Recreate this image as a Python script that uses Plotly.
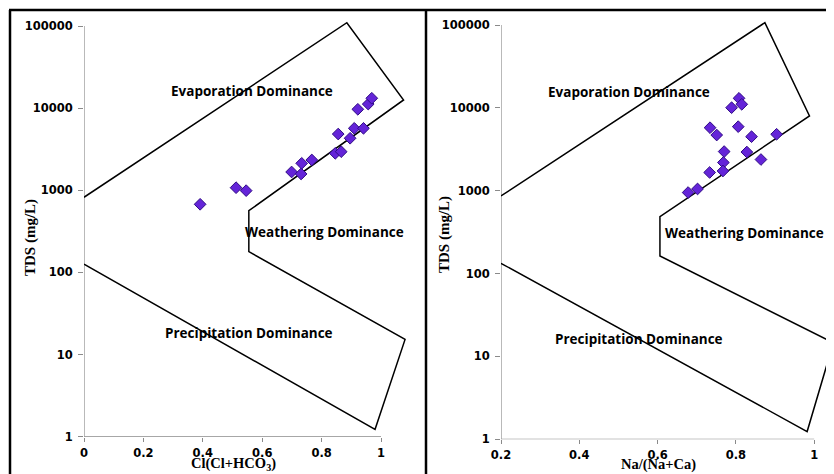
import plotly.graph_objects as go

# ---- data ----
left_x = [0.391, 0.512, 0.546, 0.699, 0.731, 0.733, 0.767, 0.846, 0.866, 0.856, 0.896, 0.910, 0.941, 0.922, 0.957, 0.969]
left_tds = [675, 1075, 990, 1670, 1580, 2130, 2340, 2820, 2950, 4840, 4300, 5680, 5680, 9680, 11200, 13200]

right_x = [0.808, 0.789, 0.815, 0.734, 0.751, 0.806, 0.840, 0.904, 0.770, 0.828, 0.864, 0.768, 0.733, 0.767, 0.678, 0.702]
right_tds = [13040, 10050, 11040, 5760, 4700, 5930, 4490, 4800, 2970, 2930, 2380, 2190, 1660, 1730, 951, 1050]

# Gibbs boundary lines
left_bx = [0.0, 0.885, 1.076, 0.555, 0.555, 1.081, 0.980, 0.0]
left_by = [822, 109600, 12570, 564, 179, 15.3, 1.23, 126]
right_bx = [0.2, 0.874, 0.988, 0.606, 0.606, 1.049, 0.982, 0.2]
right_by = [864, 106600, 7980, 486, 163, 14.6, 1.24, 133]

y_ticks = [1, 10, 100, 1000, 10000, 100000]
y_tick_text = ["1", "10", "100", "1000", "10000", "100000"]
left_xticks = [0, 0.2, 0.4, 0.6, 0.8, 1]
left_xtick_text = ["0", "0.2", "0.4", "0.6", "0.8", "1"]
right_xticks = [0.2, 0.4, 0.6, 0.8, 1]
right_xtick_text = ["0.2", "0.4", "0.6", "0.8", "1"]

regions = ["Evaporation Dominance", "Weathering Dominance", "Precipitation Dominance"]

# page body has an 8px margin, so the figure is drawn 8px smaller and
# all positions (measured in window pixels) are shifted by that offset
OFF = 8
W, H = 834 - OFF, 474 - OFF
def px(x):
    return (x - OFF) / W
def py(y):
    return 1 - (y - OFF) / H

MARKER = dict(symbol="diamond", size=9, color="#6424d8",
              line=dict(color="#2f0b85", width=1))
AXIS_GRAY = "#8a8a8a"
fig = go.Figure()

def add_panel(xs, ys, bx, by, xa, ya, x0, x1):
    # axis lines
    fig.add_trace(go.Scatter(x=[x0, x0], y=[1, 100000], mode="lines",
                             line=dict(color=AXIS_GRAY, width=1.2),
                             xaxis=xa, yaxis=ya, hoverinfo="skip", showlegend=False))
    fig.add_trace(go.Scatter(x=[x0, x1], y=[1, 1], mode="lines",
                             line=dict(color=AXIS_GRAY, width=1.2),
                             xaxis=xa, yaxis=ya, hoverinfo="skip", showlegend=False))
    fig.add_trace(go.Scatter(x=bx, y=by, mode="lines",
                             line=dict(color="black", width=1.5),
                             xaxis=xa, yaxis=ya, hoverinfo="skip", showlegend=False))
    fig.add_trace(go.Scatter(x=xs, y=ys, mode="markers", marker=MARKER,
                             xaxis=xa, yaxis=ya, showlegend=False, cliponaxis=False))

add_panel(left_x, left_tds, left_bx, left_by, "x", "y", 0, 1)
add_panel(right_x, right_tds, right_bx, right_by, "x2", "y2", 0.2, 1)

tickfont = dict(family="DejaVu Sans", size=11.5, color="black", weight="bold")
common_x = dict(showgrid=False, zeroline=False, showline=False, ticks="outside",
                ticklen=4, tickcolor=AXIS_GRAY, tickwidth=1, tickfont=tickfont,
                tickmode="array", ticklabelstandoff=1, automargin=False)
common_y = dict(type="log", showgrid=False, zeroline=False, showline=False,
                ticks="outside", ticklen=5, tickcolor=AXIS_GRAY, tickwidth=1,
                tickfont=tickfont, tickmode="array", tickvals=y_ticks,
                ticktext=y_tick_text, ticklabelstandoff=3, automargin=False)

fig.update_layout(
    width=W, height=H, margin=dict(l=0, r=0, t=0, b=0, autoexpand=False),
    paper_bgcolor="white", plot_bgcolor="rgba(0,0,0,0)",
    xaxis=dict(common_x, domain=[px(84), px(410.7)], range=[0, 1.1],
               tickvals=left_xticks, ticktext=left_xtick_text, anchor="y"),
    yaxis=dict(common_y, domain=[py(436.7), py(19.43)], range=[0, 5.08], anchor="x"),
    xaxis2=dict(common_x, domain=[px(501), 1.0], range=[0.2, 1.0506],
                tickvals=right_xticks, ticktext=right_xtick_text, anchor="y2"),
    yaxis2=dict(common_y, domain=[py(439.3), py(18.37)], range=[0, 5.08], anchor="x2"),
)

region_font = dict(family="Open Sans", size=13.5, color="black", weight="bold")
label_pos_left = [(251.7, 90.7), (324, 231.7), (248.8, 333.3)]
label_pos_right = [(629, 91.7), (744.5, 233), (638.7, 339)]
for txt, (ax_, ay_) in zip(regions, label_pos_left):
    fig.add_annotation(x=px(ax_), y=py(ay_), xref="paper", yref="paper", text=txt,
                       showarrow=False, font=region_font, xanchor="center", yanchor="middle")
for txt, (ax_, ay_) in zip(regions, label_pos_right):
    fig.add_annotation(x=px(ax_), y=py(ay_), xref="paper", yref="paper", text=txt,
                       showarrow=False, font=region_font, xanchor="center", yanchor="middle")

title_font = dict(family="Liberation Serif", size=15, color="black", weight="bold")
xtitle_font = dict(family="Liberation Serif", size=14.5, color="black", weight="bold")
fig.add_annotation(x=px(30), y=py(238), xref="paper", yref="paper", text="TDS (mg/L)",
                   textangle=-90, showarrow=False, font=title_font,
                   xanchor="center", yanchor="middle")
fig.add_annotation(x=px(445), y=py(235), xref="paper", yref="paper", text="TDS (mg/L)",
                   textangle=-90, showarrow=False, font=title_font,
                   xanchor="center", yanchor="middle")
fig.add_annotation(x=px(233), y=1 - (474 - OFF - 0.5) / H, xref="paper", yref="paper",
                   text="Cl(Cl+HCO<sub>3</sub>)", showarrow=False, font=xtitle_font,
                   xanchor="center", yanchor="bottom", borderpad=0)
fig.add_annotation(x=px(658), y=1 - (474 - OFF - 0.5) / H, xref="paper", yref="paper",
                   text="Na/(Na+Ca)", showarrow=False, font=xtitle_font,
                   xanchor="center", yanchor="bottom", borderpad=0)

# outer frame
frame = dict(color="black", width=2.5)
fig.add_shape(type="line", xref="paper", yref="paper", x0=px(9), x1=1.0, y0=py(10), y1=py(10), line=frame)
fig.add_shape(type="line", xref="paper", yref="paper", x0=px(10), x1=px(10), y0=py(10), y1=0, line=frame)
fig.add_shape(type="line", xref="paper", yref="paper", x0=px(426), x1=px(426), y0=py(10), y1=0, line=frame)

fig.write_html("out.html")
